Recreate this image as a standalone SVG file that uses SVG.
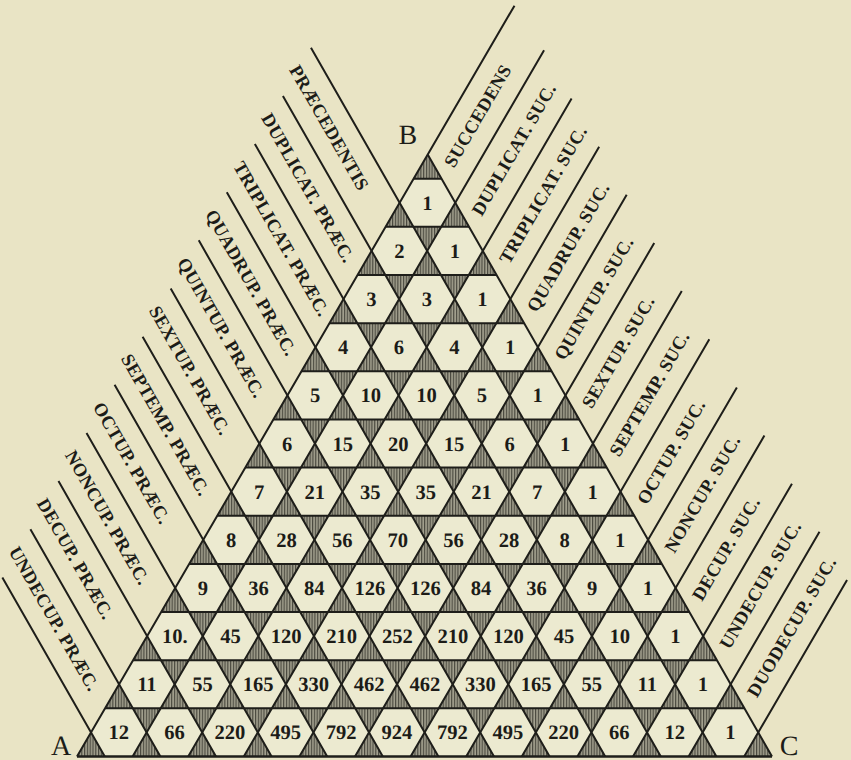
<svg xmlns="http://www.w3.org/2000/svg" xmlns:xlink="http://www.w3.org/1999/xlink" width="851" height="760" viewBox="0 0 851 760">
<style>
.n{font-family:"Liberation Serif","Times New Roman",serif;font-weight:bold;font-size:20.5px;fill:#1c1c18;text-anchor:middle}
.lb{font-family:"Liberation Serif","Times New Roman",serif;font-weight:bold;font-size:18.5px;fill:#1c1c18;letter-spacing:0.3px}
.big{font-family:"Liberation Serif","Times New Roman",serif;font-size:28px;fill:#1c1c18;text-anchor:middle}
.ln{stroke:#1e1e1a;stroke-width:2;fill:none;stroke-linecap:butt}
.hexf{fill:#ecead0}
</style>
<defs>
<pattern id="hatch" patternUnits="userSpaceOnUse" width="2.8" height="10">
<rect width="2.8" height="10" fill="#a3a18f"/>
<rect x="0" width="1.2" height="10" fill="#4b4a40"/>
</pattern>
<polygon id="hx" class="hexf" points="27.8,0 13.9,24.08 -13.9,24.08 -27.8,0 -13.9,-24.08 13.9,-24.08"/>
</defs>
<rect width="851" height="760" fill="#e9e4c5"/>
<g transform="translate(4.02 0) skewX(-0.3047)">
<polygon id="shading" points="77,756.5 772,756.5 424.5,154.61" fill="url(#hatch)"/>
<g id="cells">
<g id="r1c1" transform="translate(424.5 202.76)"><use href="#hx"/><text class="n" y="7">1</text></g>
<g id="r2c1" transform="translate(396.7 250.91)"><use href="#hx"/><text class="n" y="7">2</text></g>
<g id="r2c2" transform="translate(452.3 250.91)"><use href="#hx"/><text class="n" y="7">1</text></g>
<g id="r3c1" transform="translate(368.9 299.07)"><use href="#hx"/><text class="n" y="7">3</text></g>
<g id="r3c2" transform="translate(424.5 299.07)"><use href="#hx"/><text class="n" y="7">3</text></g>
<g id="r3c3" transform="translate(480.1 299.07)"><use href="#hx"/><text class="n" y="7">1</text></g>
<g id="r4c1" transform="translate(341.1 347.22)"><use href="#hx"/><text class="n" y="7">4</text></g>
<g id="r4c2" transform="translate(396.7 347.22)"><use href="#hx"/><text class="n" y="7">6</text></g>
<g id="r4c3" transform="translate(452.3 347.22)"><use href="#hx"/><text class="n" y="7">4</text></g>
<g id="r4c4" transform="translate(507.9 347.22)"><use href="#hx"/><text class="n" y="7">1</text></g>
<g id="r5c1" transform="translate(313.3 395.37)"><use href="#hx"/><text class="n" y="7">5</text></g>
<g id="r5c2" transform="translate(368.9 395.37)"><use href="#hx"/><text class="n" y="7">10</text></g>
<g id="r5c3" transform="translate(424.5 395.37)"><use href="#hx"/><text class="n" y="7">10</text></g>
<g id="r5c4" transform="translate(480.1 395.37)"><use href="#hx"/><text class="n" y="7">5</text></g>
<g id="r5c5" transform="translate(535.7 395.37)"><use href="#hx"/><text class="n" y="7">1</text></g>
<g id="r6c1" transform="translate(285.5 443.52)"><use href="#hx"/><text class="n" y="7">6</text></g>
<g id="r6c2" transform="translate(341.1 443.52)"><use href="#hx"/><text class="n" y="7">15</text></g>
<g id="r6c3" transform="translate(396.7 443.52)"><use href="#hx"/><text class="n" y="7">20</text></g>
<g id="r6c4" transform="translate(452.3 443.52)"><use href="#hx"/><text class="n" y="7">15</text></g>
<g id="r6c5" transform="translate(507.9 443.52)"><use href="#hx"/><text class="n" y="7">6</text></g>
<g id="r6c6" transform="translate(563.5 443.52)"><use href="#hx"/><text class="n" y="7">1</text></g>
<g id="r7c1" transform="translate(257.7 491.67)"><use href="#hx"/><text class="n" y="7">7</text></g>
<g id="r7c2" transform="translate(313.3 491.67)"><use href="#hx"/><text class="n" y="7">21</text></g>
<g id="r7c3" transform="translate(368.9 491.67)"><use href="#hx"/><text class="n" y="7">35</text></g>
<g id="r7c4" transform="translate(424.5 491.67)"><use href="#hx"/><text class="n" y="7">35</text></g>
<g id="r7c5" transform="translate(480.1 491.67)"><use href="#hx"/><text class="n" y="7">21</text></g>
<g id="r7c6" transform="translate(535.7 491.67)"><use href="#hx"/><text class="n" y="7">7</text></g>
<g id="r7c7" transform="translate(591.3 491.67)"><use href="#hx"/><text class="n" y="7">1</text></g>
<g id="r8c1" transform="translate(229.9 539.82)"><use href="#hx"/><text class="n" y="7">8</text></g>
<g id="r8c2" transform="translate(285.5 539.82)"><use href="#hx"/><text class="n" y="7">28</text></g>
<g id="r8c3" transform="translate(341.1 539.82)"><use href="#hx"/><text class="n" y="7">56</text></g>
<g id="r8c4" transform="translate(396.7 539.82)"><use href="#hx"/><text class="n" y="7">70</text></g>
<g id="r8c5" transform="translate(452.3 539.82)"><use href="#hx"/><text class="n" y="7">56</text></g>
<g id="r8c6" transform="translate(507.9 539.82)"><use href="#hx"/><text class="n" y="7">28</text></g>
<g id="r8c7" transform="translate(563.5 539.82)"><use href="#hx"/><text class="n" y="7">8</text></g>
<g id="r8c8" transform="translate(619.1 539.82)"><use href="#hx"/><text class="n" y="7">1</text></g>
<g id="r9c1" transform="translate(202.1 587.97)"><use href="#hx"/><text class="n" y="7">9</text></g>
<g id="r9c2" transform="translate(257.7 587.97)"><use href="#hx"/><text class="n" y="7">36</text></g>
<g id="r9c3" transform="translate(313.3 587.97)"><use href="#hx"/><text class="n" y="7">84</text></g>
<g id="r9c4" transform="translate(368.9 587.97)"><use href="#hx"/><text class="n" y="7">126</text></g>
<g id="r9c5" transform="translate(424.5 587.97)"><use href="#hx"/><text class="n" y="7">126</text></g>
<g id="r9c6" transform="translate(480.1 587.97)"><use href="#hx"/><text class="n" y="7">84</text></g>
<g id="r9c7" transform="translate(535.7 587.97)"><use href="#hx"/><text class="n" y="7">36</text></g>
<g id="r9c8" transform="translate(591.3 587.97)"><use href="#hx"/><text class="n" y="7">9</text></g>
<g id="r9c9" transform="translate(646.9 587.97)"><use href="#hx"/><text class="n" y="7">1</text></g>
<g id="r10c1" transform="translate(174.3 636.12)"><use href="#hx"/><text class="n" y="7">10.</text></g>
<g id="r10c2" transform="translate(229.9 636.12)"><use href="#hx"/><text class="n" y="7">45</text></g>
<g id="r10c3" transform="translate(285.5 636.12)"><use href="#hx"/><text class="n" y="7">120</text></g>
<g id="r10c4" transform="translate(341.1 636.12)"><use href="#hx"/><text class="n" y="7">210</text></g>
<g id="r10c5" transform="translate(396.7 636.12)"><use href="#hx"/><text class="n" y="7">252</text></g>
<g id="r10c6" transform="translate(452.3 636.12)"><use href="#hx"/><text class="n" y="7">210</text></g>
<g id="r10c7" transform="translate(507.9 636.12)"><use href="#hx"/><text class="n" y="7">120</text></g>
<g id="r10c8" transform="translate(563.5 636.12)"><use href="#hx"/><text class="n" y="7">45</text></g>
<g id="r10c9" transform="translate(619.1 636.12)"><use href="#hx"/><text class="n" y="7">10</text></g>
<g id="r10c10" transform="translate(674.7 636.12)"><use href="#hx"/><text class="n" y="7">1</text></g>
<g id="r11c1" transform="translate(146.5 684.27)"><use href="#hx"/><text class="n" y="7">11</text></g>
<g id="r11c2" transform="translate(202.1 684.27)"><use href="#hx"/><text class="n" y="7">55</text></g>
<g id="r11c3" transform="translate(257.7 684.27)"><use href="#hx"/><text class="n" y="7">165</text></g>
<g id="r11c4" transform="translate(313.3 684.27)"><use href="#hx"/><text class="n" y="7">330</text></g>
<g id="r11c5" transform="translate(368.9 684.27)"><use href="#hx"/><text class="n" y="7">462</text></g>
<g id="r11c6" transform="translate(424.5 684.27)"><use href="#hx"/><text class="n" y="7">462</text></g>
<g id="r11c7" transform="translate(480.1 684.27)"><use href="#hx"/><text class="n" y="7">330</text></g>
<g id="r11c8" transform="translate(535.7 684.27)"><use href="#hx"/><text class="n" y="7">165</text></g>
<g id="r11c9" transform="translate(591.3 684.27)"><use href="#hx"/><text class="n" y="7">55</text></g>
<g id="r11c10" transform="translate(646.9 684.27)"><use href="#hx"/><text class="n" y="7">11</text></g>
<g id="r11c11" transform="translate(702.5 684.27)"><use href="#hx"/><text class="n" y="7">1</text></g>
<g id="r12c1" transform="translate(118.7 732.42)"><use href="#hx"/><text class="n" y="7">12</text></g>
<g id="r12c2" transform="translate(174.3 732.42)"><use href="#hx"/><text class="n" y="7">66</text></g>
<g id="r12c3" transform="translate(229.9 732.42)"><use href="#hx"/><text class="n" y="7">220</text></g>
<g id="r12c4" transform="translate(285.5 732.42)"><use href="#hx"/><text class="n" y="7">495</text></g>
<g id="r12c5" transform="translate(341.1 732.42)"><use href="#hx"/><text class="n" y="7">792</text></g>
<g id="r12c6" transform="translate(396.7 732.42)"><use href="#hx"/><text class="n" y="7">924</text></g>
<g id="r12c7" transform="translate(452.3 732.42)"><use href="#hx"/><text class="n" y="7">792</text></g>
<g id="r12c8" transform="translate(507.9 732.42)"><use href="#hx"/><text class="n" y="7">495</text></g>
<g id="r12c9" transform="translate(563.5 732.42)"><use href="#hx"/><text class="n" y="7">220</text></g>
<g id="r12c10" transform="translate(619.1 732.42)"><use href="#hx"/><text class="n" y="7">66</text></g>
<g id="r12c11" transform="translate(674.7 732.42)"><use href="#hx"/><text class="n" y="7">12</text></g>
<g id="r12c12" transform="translate(730.3 732.42)"><use href="#hx"/><text class="n" y="7">1</text></g>
</g>
<g id="connectors" class="ln">
<path d="M77 756.5H772" stroke-width="2.6"/>
<path d="M104.8 708.35H744.2M132.6 660.2H716.4M160.4 612.05H688.6M188.2 563.9H660.8M216 515.74H633M243.8 467.59H605.2M271.6 419.44H577.4M299.4 371.29H549.6M327.2 323.14H521.8M355 274.99H494M382.8 226.84H466.2M410.6 178.69H438.4"/>
<path d="M104.8 756.5L1.4 577.4M160.4 756.5L29.2 529.27M216 756.5L57 481.12M271.6 756.5L84.8 432.97M327.2 756.5L112.6 384.82M382.8 756.5L140.4 336.67M438.4 756.5L168.2 288.52M494 756.5L196 240.37M549.6 756.5L223.8 192.22M605.2 756.5L251.6 144.07M660.8 756.5L279.4 95.91M716.4 756.5L307.2 47.76M772 756.5L424.5 154.61"/>
<path d="M77 756.5L510.5 5.65M132.6 756.5L540.3 50.36M188.2 756.5L568.1 98.51M243.8 756.5L595.9 146.67M299.4 756.5L623.7 194.82M355 756.5L651.5 242.97M410.6 756.5L679.3 291.12M466.2 756.5L707.1 339.27M521.8 756.5L734.9 387.42M577.4 756.5L762.7 435.57M633 756.5L790.5 483.72M688.6 756.5L818.3 531.87M744.2 756.5L846.1 580.02"/>
</g>
<g id="labels-left">
<text class="lb" transform="translate(285.22 69.67) rotate(60)">PRÆCEDENTIS</text>
<text class="lb" transform="translate(257.42 117.82) rotate(60)">DUPLICAT. PRÆC.</text>
<text class="lb" transform="translate(229.62 165.98) rotate(60)">TRIPLICAT. PRÆC.</text>
<text class="lb" transform="translate(201.82 214.13) rotate(60)">QUADRUP. PRÆC.</text>
<text class="lb" transform="translate(174.02 262.28) rotate(60)">QUINTUP. PRÆC.</text>
<text class="lb" transform="translate(146.22 310.43) rotate(60)">SEXTUP. PRÆC.</text>
<text class="lb" transform="translate(118.42 358.58) rotate(60)">SEPTEMP. PRÆC.</text>
<text class="lb" transform="translate(90.62 406.73) rotate(60)">OCTUP. PRÆC.</text>
<text class="lb" transform="translate(62.82 454.88) rotate(60)">NONCUP. PRÆC.</text>
<text class="lb" transform="translate(35.02 503.03) rotate(60)">DECUP. PRÆC.</text>
<text class="lb" transform="translate(7.22 551.18) rotate(60)">UNDECUP. PRÆC.</text>
</g>
<g id="labels-right">
<text class="lb" transform="translate(450.98 168.74) rotate(-60)">SUCCEDENS</text>
<text class="lb" transform="translate(478.78 216.89) rotate(-60)">DUPLICAT. SUC.</text>
<text class="lb" transform="translate(506.58 265.04) rotate(-60)">TRIPLICAT. SUC.</text>
<text class="lb" transform="translate(534.38 313.2) rotate(-60)">QUADRUP. SUC.</text>
<text class="lb" transform="translate(562.18 361.35) rotate(-60)">QUINTUP. SUC.</text>
<text class="lb" transform="translate(589.98 409.5) rotate(-60)">SEXTUP. SUC.</text>
<text class="lb" transform="translate(617.78 457.65) rotate(-60)">SEPTEMP. SUC.</text>
<text class="lb" transform="translate(645.58 505.8) rotate(-60)">OCTUP. SUC.</text>
<text class="lb" transform="translate(673.38 553.95) rotate(-60)">NONCUP. SUC.</text>
<text class="lb" transform="translate(701.18 602.1) rotate(-60)">DECUP. SUC.</text>
<text class="lb" transform="translate(728.98 650.25) rotate(-60)">UNDECUP. SUC.</text>
<text class="lb" transform="translate(756.78 698.4) rotate(-60)">DUODECUP. SUC.</text>
</g>
<g id="corners">
<text id="B" class="big" x="404.5" y="144">B</text>
<text id="A" class="big" x="61" y="755">A</text>
<text id="C" class="big" x="789" y="755">C</text>
</g>
</g>
</svg>
